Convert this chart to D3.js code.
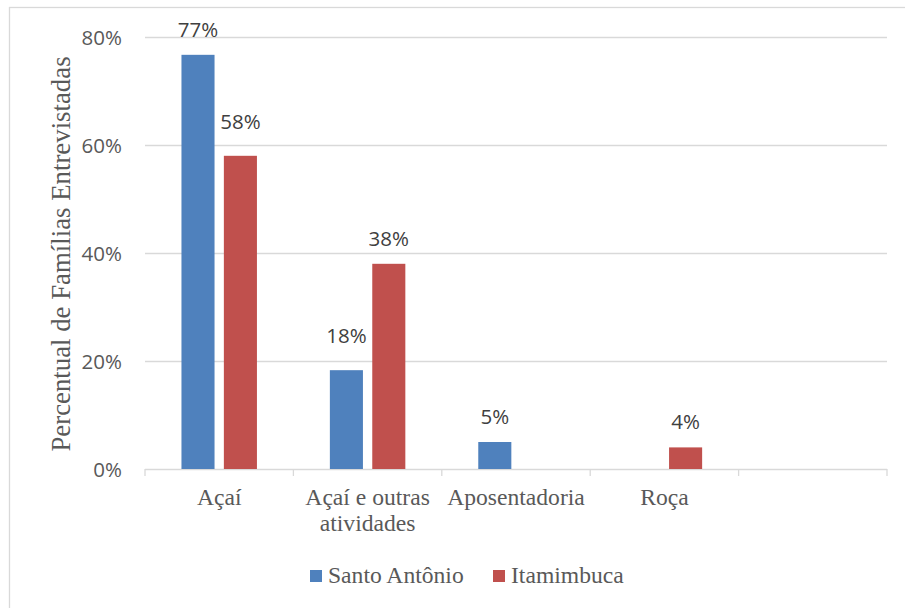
<!DOCTYPE html>
<html>
<head>
<meta charset="utf-8">
<script src="https://cdn.jsdelivr.net/npm/d3@7/dist/d3.min.js"></script>
<style>
  html, body { margin: 0; padding: 0; background: #fff; }
  svg { display: block; }
</style>
</head>
<body>
<svg id="chart" width="905" height="608"></svg>
<script>
// ---- data ----
const categories = ["Açaí", "Açaí e outras atividades", "Aposentadoria", "Roça", ""];
const seriesNames = ["Santo Antônio", "Itamimbuca"];
const santoAntonio = [0.767, 0.183, 0.05, null, null];
const itamimbuca = [0.58, 0.38, null, 0.04, null];
const yTicks = [0, 0.2, 0.4, 0.6, 0.8];
const yTitle = "Percentual de Famílias Entrevistadas";

const seriesValues = [santoAntonio, itamimbuca];
const colors = ["#4F81BD", "#C0504D"];

const svg = d3.select("#chart");
const W = 905, H = 608;
const plot = { left: 145, right: 887, top: 37, bottom: 469 };

// chart border
svg.append("rect")
  .attr("x", 9.5).attr("y", 7.5)
  .attr("width", W + 10).attr("height", H + 10)
  .attr("fill", "#fff").attr("stroke", "#d9d9d9").attr("stroke-width", 1.3);

const x0 = d3.scaleBand().domain(d3.range(categories.length))
  .range([plot.left, plot.right]).paddingInner(0).paddingOuter(0);
const x1 = d3.scaleBand().domain(d3.range(seriesNames.length))
  .range([0, x0.bandwidth()]).paddingInner(0.22).paddingOuter(0.86);
const y = d3.scaleLinear().domain([0, 0.8]).range([plot.bottom, plot.top]);

const pct = d3.format(".0%");
const numFont = "'Open Sans', 'DejaVu Sans', sans-serif";
const serif = "'Liberation Serif', 'DejaVu Serif', serif";

// gridlines
svg.append("g").selectAll("line")
  .data(yTicks.filter(d => d > 0))
  .join("line")
  .attr("x1", plot.left).attr("x2", plot.right)
  .attr("y1", d => Math.round(y(d)) + 0.5).attr("y2", d => Math.round(y(d)) + 0.5)
  .attr("stroke", "#d9d9d9").attr("stroke-width", 1.3);

// y axis labels
const yAxis = d3.axisLeft(y).tickValues(yTicks).tickFormat(pct).tickSize(0).tickPadding(23);
const gy = svg.append("g").attr("transform", `translate(${plot.left},0)`).call(yAxis);
gy.select(".domain").remove();
gy.selectAll("text")
  .attr("font-family", numFont).attr("font-size", 20.5)
  .attr("fill", "#595959").attr("dy", "0.36em");

// x axis
const boundaries = d3.range(categories.length + 1).map(i =>
  i < categories.length ? x0(i) : x0(categories.length - 1) + x0.bandwidth());
const gx = svg.append("g");
gx.append("line")
  .attr("x1", plot.left).attr("x2", plot.right)
  .attr("y1", plot.bottom + 0.5).attr("y2", plot.bottom + 0.5)
  .attr("stroke", "#d9d9d9").attr("stroke-width", 1.3);
gx.selectAll("line.tick").data(boundaries).join("line")
  .attr("class", "tick")
  .attr("x1", d => d).attr("x2", d => d)
  .attr("y1", plot.bottom).attr("y2", plot.bottom + 7)
  .attr("stroke", "#d9d9d9").attr("stroke-width", 1.3);

// category labels with wrapping
const catLabels = gx.selectAll("text.cat").data(categories).join("text")
  .attr("class", "cat")
  .attr("x", (d, i) => x0(i) + x0.bandwidth() / 2)
  .attr("y", 505)
  .attr("text-anchor", "middle")
  .attr("font-family", serif).attr("font-size", 23.6)
  .attr("fill", "#595959");

catLabels.each(function(d) {
  const t = d3.select(this);
  const words = d.split(" ");
  let line = [];
  let lineNo = 0;
  let tspan = t.append("tspan").attr("x", t.attr("x")).attr("dy", 0);
  const maxW = x0.bandwidth();
  words.forEach(w => {
    line.push(w);
    tspan.text(line.join(" "));
    if (tspan.node().getComputedTextLength() > maxW && line.length > 1) {
      line.pop();
      tspan.text(line.join(" "));
      line = [w];
      lineNo++;
      tspan = t.append("tspan").attr("x", t.attr("x")).attr("dy", 26).text(w);
    }
  });
});

// bars
const rows = [];
categories.forEach((c, i) => {
  seriesValues.forEach((vals, s) => {
    if (vals[i] != null) {
      const other = seriesValues.map(v => v[i]).filter((v, k) => k !== s && v != null);
      rows.push({ ci: i, s, v: vals[i], neighborTaller: other.some(o => o > vals[i]) });
    }
  });
});

svg.append("g").selectAll("rect").data(rows).join("rect")
  .attr("x", d => x0(d.ci) + x1(d.s))
  .attr("width", x1.bandwidth())
  .attr("y", d => y(d.v))
  .attr("height", d => y(0) - y(d.v))
  .attr("fill", d => colors[d.s]);

// data labels
svg.append("g").selectAll("text").data(rows).join("text")
  .attr("x", d => x0(d.ci) + x1(d.s) + x1.bandwidth() / 2)
  .attr("y", d => y(d.v) - (d.neighborTaller ? 27 : 18))
  .attr("text-anchor", "middle")
  .attr("font-family", numFont).attr("font-size", 20.5)
  .attr("fill", "#404040")
  .text(d => pct(d.v));

// y title
svg.append("text")
  .attr("transform", `translate(70, ${(plot.top + plot.bottom) / 2 + 1}) rotate(-90)`)
  .attr("text-anchor", "middle")
  .attr("font-family", serif).attr("font-size", 26.8)
  .attr("fill", "#595959")
  .text(yTitle);

// legend
const legendPos = [310, 493];
const lg = svg.append("g");
seriesNames.forEach((name, i) => {
  lg.append("rect")
    .attr("x", legendPos[i]).attr("y", 570)
    .attr("width", 12).attr("height", 12)
    .attr("fill", colors[i]);
  lg.append("text")
    .attr("x", legendPos[i] + 18).attr("y", 583)
    .attr("font-family", serif).attr("font-size", 23.6)
    .attr("fill", "#595959")
    .text(name);
});
</script>
</body>
</html>
